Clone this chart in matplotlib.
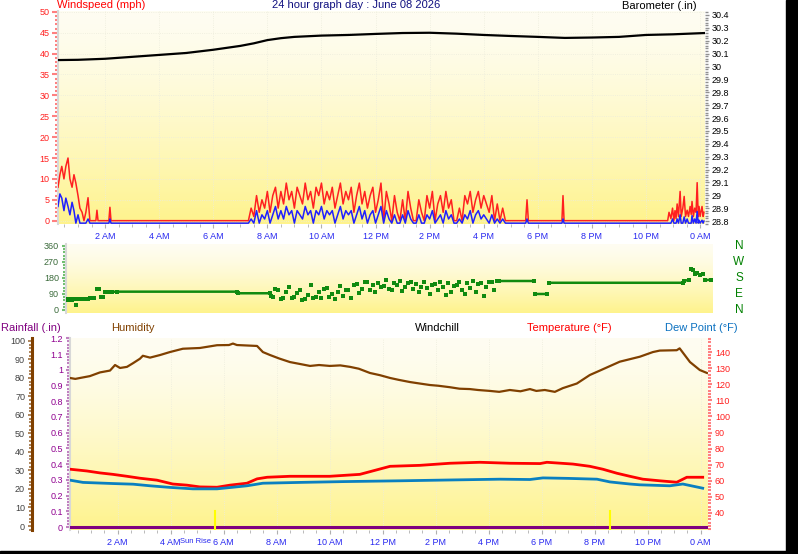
import numpy as np
import matplotlib
matplotlib.use("Agg")
import matplotlib.pyplot as plt
import matplotlib.transforms as mtransforms
from matplotlib.patches import Rectangle
from matplotlib.ticker import MultipleLocator, FixedLocator

plt.rcParams['font.family'] = ['Liberation Sans', 'DejaVu Sans']

# ---- data (hours since midnight) ----
tick_hours = [2, 4, 6, 8, 10, 12, 14, 16, 18, 20, 22, 24]
tick_labels = ["2 AM", "4 AM", "6 AM", "8 AM", "10 AM", "12 PM",
               "2 PM", "4 PM", "6 PM", "8 PM", "10 PM", "0 AM"]

baro_hours = [0.26, 1, 2, 3, 4, 5, 6, 7, 7.5, 8, 8.5, 9, 10, 11, 12, 13, 14,
              15, 16, 17, 18, 19, 20, 21, 22, 23, 24.18]
baro_in = [30.05, 30.052, 30.06, 30.075, 30.09, 30.105, 30.13, 30.16, 30.18,
           30.205, 30.22, 30.23, 30.24, 30.245, 30.253, 30.26, 30.262, 30.255,
           30.245, 30.237, 30.23, 30.222, 30.225, 30.23, 30.245, 30.25, 30.26]

wind_hours = [0.26, 0.33, 0.4, 0.48, 0.55, 0.63, 0.7, 0.78, 0.85, 0.92, 1.0,
              1.07, 1.15, 1.22, 1.29, 1.37, 1.44, 1.66, 1.7, 1.74, 2.14, 2.18,
              2.22,
              7.3, 7.4, 7.5, 7.6, 7.7, 7.8, 7.9, 8.0, 8.1, 8.2, 8.3, 8.4, 8.5,
              8.6, 8.7, 8.8, 8.9, 9.0, 9.1, 9.2, 9.3, 9.4, 9.5, 9.6, 9.7, 9.8,
              9.9, 10.0, 10.1, 10.2, 10.3, 10.4, 10.5, 10.6, 10.7, 10.8, 10.9,
              11.0, 11.1, 11.2, 11.3, 11.4, 11.5, 11.6, 11.7, 11.8, 11.9, 12.0,
              12.1, 12.2, 12.3, 12.4, 12.5, 12.6, 12.7, 12.8, 12.9, 13.0, 13.1,
              13.2, 13.3, 13.4, 13.5, 13.6, 13.7, 13.8, 13.9, 14.0, 14.1, 14.2,
              14.3, 14.4, 14.5, 14.6, 14.7, 14.8, 14.9, 15.0, 15.1, 15.2, 15.3,
              15.4, 15.5, 15.6, 15.7, 15.8, 15.9, 16.0, 16.1, 16.2, 16.3, 16.4,
              16.5, 16.6, 16.7, 16.8, 16.9, 17.0,
              17.55, 17.6, 17.65, 18.89, 18.93, 18.97,
              22.8, 22.85, 22.92, 22.98, 23.03, 23.07, 23.11, 23.15, 23.2,
              23.26, 23.3, 23.36, 23.41, 23.46, 23.52, 23.57, 23.63, 23.67,
              23.7, 23.75, 23.8, 23.85, 23.89, 23.93, 23.96, 24.0, 24.07, 24.11,
              24.14]
wind_gust = [8, 11, 13, 10, 13, 15, 10, 8, 11, 9, 6, 3, 2, 0, 2, 5.5, 0, 0, 2.5,
             0, 0, 3.2, 0,
             0, 3, 1, 6, 2, 5, 3, 7, 2, 6, 8, 3, 7, 4, 9, 5, 7, 3, 8, 6, 4, 9,
             5, 7, 3, 8, 6, 9, 4, 7, 5, 8, 3, 6, 9, 4, 7, 5, 8, 2, 6, 9, 4, 7,
             3, 6, 8, 2, 5, 9, 0, 7, 4, 0, 6, 2, 0, 5, 0, 7, 3, 0, 0, 5, 2, 0,
             6, 3, 7, 0, 4, 6, 2, 7, 3, 5, 0, 0, 3, 0, 6, 4, 7, 2, 5, 7, 3, 6,
             4, 2, 6, 0, 4, 0, 3, 0, 0, 0,
             0, 5, 0, 0, 6, 0,
             0, 2, 0.5, 3, 0, 2.4, 0.5, 4, 1, 7, 1, 3, 5.8, 1, 2.5, 1, 3.4,
             1.5, 4.6, 1, 3, 2, 9.1, 1, 3.4, 1, 3.4, 1, 2]
wind_avg = [4, 7, 6, 3, 6, 4, 2, 5, 3, 0, 2, 0, 0, 0, 0, 1, 0, 0, 0, 0, 0, 1, 0,
            0, 1, 0, 3, 0, 2, 1, 3, 0, 2, 4, 1, 3, 1, 4, 2, 3, 0, 3, 2, 1, 4,
            2, 3, 0, 3, 2, 4, 1, 3, 2, 3, 0, 2, 4, 1, 3, 2, 3, 0, 2, 4, 1, 3,
            0, 2, 3, 0, 2, 4, 0, 3, 1, 0, 2, 0, 0, 2, 0, 3, 1, 0, 0, 2, 0, 0,
            2, 1, 3, 0, 1, 2, 0, 3, 1, 2, 0, 0, 1, 0, 2, 1, 3, 0, 2, 3, 1, 2,
            1, 0, 2, 0, 1, 0, 1, 0, 0, 0,
            0, 1, 0, 0, 1, 0,
            0, 0, 0, 1, 0, 0, 0, 1, 0, 2, 0, 0, 1.5, 0, 1, 0, 0, 0, 1.8, 0, 1,
            0, 2.8, 0, 0.7, 0, 0.7, 0, 0.5]

dir_hours = [0.28, 0.35, 0.42, 0.5, 0.57, 0.63, 0.7, 0.78, 0.85, 0.93, 1.0,
             1.07, 1.15, 1.22, 1.3, 1.4, 1.47, 1.55, 1.63, 1.72, 1.8, 1.95,
             2.15, 6.58, 6.62, 7.8, 7.85,
             7.9, 8.0, 8.1, 8.2, 8.3, 8.4, 8.5, 8.6, 8.7, 8.8, 8.9, 9.0, 9.1,
             9.2, 9.3, 9.4, 9.5, 9.6, 9.7, 9.8, 9.9, 10.0, 10.1, 10.2, 10.3,
             10.4, 10.5, 10.6, 10.7, 10.8, 10.9, 11.0, 11.1, 11.2, 11.3, 11.4,
             11.5, 11.6, 11.7, 11.8, 11.9, 12.0, 12.1, 12.2, 12.3, 12.4, 12.5,
             12.6, 12.7, 12.8, 12.9, 13.0, 13.1, 13.2, 13.3, 13.4, 13.5, 13.6,
             13.7, 13.8, 13.9, 14.0, 14.1, 14.2, 14.3, 14.4, 14.5, 14.6, 14.7,
             14.8, 14.9, 15.0, 15.1, 15.2, 15.3, 15.4, 15.5, 15.6, 15.7, 15.8,
             15.9, 16.0, 16.1, 16.2,
             16.25, 17.55, 17.6, 18.05, 18.1, 23.07, 23.1, 23.3, 23.35, 23.45,
             23.5, 23.6, 23.7, 23.8, 23.9, 24.1]
dir_deg = [62, 58, 64, 55, 61, 28, 60, 62, 63, 61, 62, 63, 69, 70, 68, 120, 118,
           74, 72, 101, 100, 102, 103, 103, 94, 94, 80,
           75, 120, 115, 60, 65, 100, 130, 70, 75, 95, 110, 55, 60, 85, 140,
           70, 72, 100, 65, 120, 125, 75, 90, 60, 100, 135, 80, 110, 115, 70,
           140, 145, 95, 120, 160, 155, 110, 140, 100, 150, 130, 135, 170, 120,
           115, 150, 140, 165, 105, 130, 150, 155, 120, 145, 100, 130, 160, 125,
           90, 140, 145, 110, 160, 130, 85, 150, 100, 135, 140, 160, 115, 90,
           150, 125, 165, 100, 145, 150, 80, 130, 160, 155, 110, 165,
           163, 163, 90, 90, 153, 153, 165, 168, 230, 225, 200, 210, 197, 200,
           168, 170]

rain_hours = [0.2, 24.28]
rain_in = [0, 0]

hum_hours = [0.2, 0.4, 0.58, 0.95, 1.33, 1.71, 1.9, 2.09, 2.35, 2.58, 2.84,
             2.95, 3.22, 3.6, 3.97, 4.46, 5.1, 5.75, 6.2, 6.35, 6.5, 7.26,
             7.48, 7.75, 8.1, 8.5, 8.9, 9.26, 9.6, 10.01, 10.4, 10.77, 11.1,
             11.52, 11.9, 12.28, 12.6, 13.03, 13.4, 13.78, 14.1, 14.54, 14.9,
             15.29, 15.6, 16.05, 16.4, 16.8, 17.2, 17.56, 17.8, 18.12, 18.5,
             18.8, 19.33, 19.82, 20.2, 20.95, 21.71, 22.2, 22.46, 23.1, 23.21,
             23.6, 23.97, 24.24]
hum_pct = [80, 79.5, 80, 81, 83, 84, 87, 85.4, 86, 88, 90.4, 92, 91, 92.4, 94,
           95.8, 96.2, 97.7, 97.8, 98.6, 97.8, 97.3, 94, 92.4, 90.5, 88.6,
           87.5, 86.5, 87, 86.5, 86.8, 86, 85, 82.7, 81.5, 80, 79, 77.8, 77,
           76.2, 75.8, 75, 74.2, 74, 73.5, 73, 72.5, 73.5, 72.8, 74, 73, 73.5,
           72.5, 74.5, 77, 81.6, 84, 88.8, 91.5, 94, 94.8, 95, 96, 88.6, 84.3,
           82.7]

temp_hours = [0.2, 0.84, 1.33, 1.82, 2.35, 2.84, 3.48, 4.08, 4.61, 5.1, 5.75,
              6.24, 6.88, 7.26, 7.64, 8.5, 10.0, 11.14, 12.28, 13.41, 14.54,
              15.67, 16.8, 17.94, 18.2, 19.18, 19.82, 20.31, 20.84, 21.33,
              21.82, 22.46, 23.1, 23.48, 24.08]
temp_f = [67.2, 66.1, 64.9, 64, 62.8, 61.6, 60.4, 58, 57.3, 56.2, 56, 57.3,
          58.5, 61.2, 62.2, 62.8, 62.8, 64, 69, 69.6, 70.9, 71.5, 70.9, 70.7,
          71.5, 70.4, 69, 67.2, 64.7, 62.8, 61, 60, 59.1, 62.2, 62.2]

dew_hours = [0.2, 0.69, 1.82, 2.58, 3.22, 3.97, 4.84, 5.75, 6.35, 6.88, 7.48,
             8.88, 10.5, 12.65, 14.5, 16.43, 17.56, 18.05, 19.0, 20.09, 20.58,
             21.33, 21.71, 22.84, 23.33, 24.08]
dew_f = [60.4, 59, 58.3, 57.9, 56.9, 55.9, 55, 55, 56, 56.9, 58.5, 59, 59.5,
         60, 60.5, 61, 60.8, 61.8, 61.5, 61, 59.3, 58, 57.5, 56.9, 58, 55.4]

sunrise_h = 5.67
sunset_h = 20.6

# ---- layout helpers (pixel boxes on a 798x554 canvas) ----
W, H = 798, 554
fig = plt.figure(figsize=(W / 100, H / 100), dpi=100)
fig.patch.set_facecolor('white')


def box(l, t, r, b):
    return [l / W, 1 - b / H, (r - l) / W, (b - t) / H]


grad = np.linspace(0, 1, 200) ** 1.4
c_top = np.array([254, 253, 242]) / 255
c_bot = np.array([255, 243, 140]) / 255
grad_img = c_top + (c_bot - c_top) * grad[:, None, None]


def panel(ax):
    ax.imshow(grad_img, extent=[0, 1, 0, 1], transform=ax.transAxes,
              aspect='auto', zorder=0, origin='upper')
    for s in ax.spines.values():
        s.set_visible(False)
    ax.spines['left'].set_visible(True)
    ax.spines['left'].set_color('#D8D8D8')
    ax.spines['left'].set_linewidth(1.5)


def label_fmt(v, nd=1):
    s = f"{v:.{nd}f}".rstrip('0').rstrip('.')
    return s


small = 6.5

# ---- top panel: wind speed + barometer ----
ax1 = fig.add_axes(box(58, 11, 705, 224))
panel(ax1)
ax1.plot(wind_hours, wind_gust, color='#FF2020', lw=1.1, zorder=3)
blue_tr = mtransforms.offset_copy(ax1.transData, fig=fig, x=0, y=-2.5, units='dots')
ax1.plot(wind_hours, wind_avg, color='#2020FF', lw=1.1, zorder=4, transform=blue_tr)
ax1.set_xlim(0.26, 24.18)
ax1.set_ylim(-0.8, 50.2)
ax1.xaxis.set_major_locator(FixedLocator(tick_hours))
ax1.set_xticklabels(tick_labels)
ax1.xaxis.set_minor_locator(MultipleLocator(0.5))
ax1.tick_params(axis='x', which='both', colors='#B0B0B0', labelcolor='#2828F0',
                labelsize=small, length=3, pad=3)
ax1.tick_params(axis='x', which='minor', length=2)
ax1.yaxis.set_major_locator(MultipleLocator(5))
ax1.yaxis.set_minor_locator(MultipleLocator(1))
ax1.tick_params(axis='y', which='both', colors='#FF8080', labelcolor='#FF2020',
                labelsize=small, length=4, width=1.5, pad=2)
ax1.tick_params(axis='y', which='minor', length=2)
ax1.grid(True, which='major', color='#ECECDC', ls=':', lw=0.6)

ax1b = ax1.twinx()
ax1b.plot(baro_hours, baro_in, color='black', lw=1.6, zorder=3)
ax1b.set_ylim(28.777, 30.431)
for s in ax1b.spines.values():
    s.set_visible(False)
baro_ticks = [28.8, 28.9, 29.0, 29.1, 29.2, 29.3, 29.4, 29.5, 29.6, 29.7,
              29.8, 29.9, 30.0, 30.1, 30.2, 30.3, 30.4]
ax1b.yaxis.set_major_locator(FixedLocator(baro_ticks))
ax1b.set_yticklabels([label_fmt(v) for v in baro_ticks])
ax1b.yaxis.set_minor_locator(MultipleLocator(0.02))
ax1b.tick_params(axis='y', which='both', colors='#909090', labelcolor='black',
                 labelsize=small, length=3, width=1, pad=2)
ax1b.tick_params(axis='y', which='minor', length=2)

# ---- middle panel: wind direction ----
ax2 = fig.add_axes(box(66, 244, 713, 313))
panel(ax2)
xs, ys = [], []
for i in range(len(dir_deg)):
    xs.append(dir_hours[i])
    ys.append(dir_deg[i])
    if i < len(dir_deg) - 1 and abs(dir_deg[i + 1] - dir_deg[i]) > 12:
        xs.append(np.nan)
        ys.append(np.nan)
ax2.plot(xs, ys, color='#108A10', lw=1.8, solid_capstyle='butt', zorder=3)
ax2.plot(dir_hours, dir_deg, ls='none', marker='s', ms=2.5, mew=0,
         color='#108A10', zorder=3)
ax2.set_xlim(0.26, 24.18)
ax2.set_ylim(-17, 371)
ax2.set_xticks([])
ax2.yaxis.set_major_locator(FixedLocator([0, 90, 180, 270, 360]))
ax2.yaxis.set_minor_locator(MultipleLocator(18))
ax2.tick_params(axis='y', which='both', colors='#70C070', labelcolor='#3A6A3A',
                labelsize=small, length=3, width=1.5, pad=2)
ax2.tick_params(axis='y', which='minor', length=2)
for lab, deg in zip(["N", "W", "S", "E", "N"], [360, 270, 180, 90, 0]):
    ax2.text(1.04, deg, lab, transform=ax2.get_yaxis_transform(),
             color='#008000', fontsize=8.5, ha='center', va='center')

# ---- bottom panel: rain, humidity, temperature, dew point ----
axb = fig.add_axes(box(70, 338, 708, 530))
panel(axb)
axb.plot(rain_hours, rain_in, color='#800080', lw=2.2, zorder=5)
axb.set_xlim(0.2, 24.28)
axb.set_ylim(-0.019, 1.202)
axb.xaxis.set_major_locator(FixedLocator(tick_hours))
axb.set_xticklabels(tick_labels)
axb.xaxis.set_minor_locator(MultipleLocator(0.5))
axb.tick_params(axis='x', which='both', colors='#B0B0B0', labelcolor='#2828F0',
                labelsize=small, length=3, pad=3)
axb.tick_params(axis='x', which='minor', length=2)
rain_ticks = [0, 0.1, 0.2, 0.3, 0.4, 0.5, 0.6, 0.7, 0.8, 0.9, 1.0, 1.1, 1.2]
axb.yaxis.set_major_locator(FixedLocator(rain_ticks))
axb.set_yticklabels([label_fmt(v) for v in rain_ticks])
axb.yaxis.set_minor_locator(MultipleLocator(0.02))
axb.tick_params(axis='y', which='both', colors='#C080C0', labelcolor='#900090',
                labelsize=small, length=3, width=1.5, pad=2)
axb.tick_params(axis='y', which='minor', length=2)
axb.grid(True, which='major', axis='x', color='#ECECDC', ls=':', lw=0.6)
axb.plot([sunrise_h, sunrise_h], [-0.019, 0.105], color='#FFFF00', lw=1.5, zorder=6)
axb.plot([sunset_h, sunset_h], [-0.019, 0.105], color='#FFFF00', lw=1.5, zorder=6)
# "Sun Rise" squeezed between the 4 AM and 6 AM labels
axb.text(sunrise_h - 0.15, -0.04, "Sun Rise", transform=axb.get_xaxis_transform(),
         color='#2828F0', fontsize=5.5, ha='right', va='top')

axh = axb.twinx()
axh.plot(hum_hours, hum_pct, color='#804000', lw=1.6, zorder=3)
axh.set_ylim(-2.16, 101.6)
for s in axh.spines.values():
    s.set_visible(False)
axh.spines['left'].set_visible(True)
axh.spines['left'].set_position(('axes', (32 - 70) / 638))
axh.spines['left'].set_color('#804000')
axh.spines['left'].set_linewidth(2.2)
axh.yaxis.set_ticks_position('left')
axh.yaxis.set_major_locator(MultipleLocator(10))
axh.yaxis.set_minor_locator(MultipleLocator(2))
axh.tick_params(axis='y', which='both', left=True, right=False, labelleft=True,
                labelright=False, colors='#A07040', labelcolor='#404040',
                labelsize=small, length=3, width=1.2, pad=2)
axh.tick_params(axis='y', which='minor', length=2)

axt = axb.twinx()
axt.plot(temp_hours, temp_f, color='#FF0000', lw=2.0, zorder=4)
axt.plot(dew_hours, dew_f, color='#0A80C0', lw=2.0, zorder=4)
axt.set_ylim(29.44, 148.7)
for s in axt.spines.values():
    s.set_visible(False)
axt.yaxis.set_major_locator(FixedLocator([40, 50, 60, 70, 80, 90, 100, 110,
                                          120, 130, 140]))
axt.yaxis.set_minor_locator(MultipleLocator(2))
axt.tick_params(axis='y', which='both', colors='#FF8080', labelcolor='#FF2020',
                labelsize=small, length=3, width=1.5, pad=2)
axt.tick_params(axis='y', which='minor', length=2)

# ---- titles and series labels ----
def ftext(x, y, s, **kw):
    fig.text(x / W, 1 - y / H, s, va='baseline', fontsize=8, **kw)


ftext(57, 8.5, "Windspeed (mph)", color='#FF0000')
ftext(356, 8.5, "24 hour graph day : June 08 2026", color='#101080', ha='center')
ftext(697, 9, "Barometer (.in)", color='black', ha='right')
ftext(1, 331, "Rainfall (.in)", color='#800080')
ftext(111, 331, "Humidity", color='#804000')
ftext(415, 331, "Windchill", color='black')
ftext(527, 331, "Temperature (°F)", color='#FF0000')
ftext(665, 331, "Dew Point (°F)", color='#0A70C0')

# black frame bits on the right and bottom
fig.patches.append(Rectangle((786 / W, 0), 12 / W, 1, transform=fig.transFigure,
                             color='black', zorder=10))
fig.patches.append(Rectangle((0, 0), 1, 3 / H, transform=fig.transFigure,
                             color='black', zorder=10))

fig.savefig("out.png", dpi=100, facecolor='white')
